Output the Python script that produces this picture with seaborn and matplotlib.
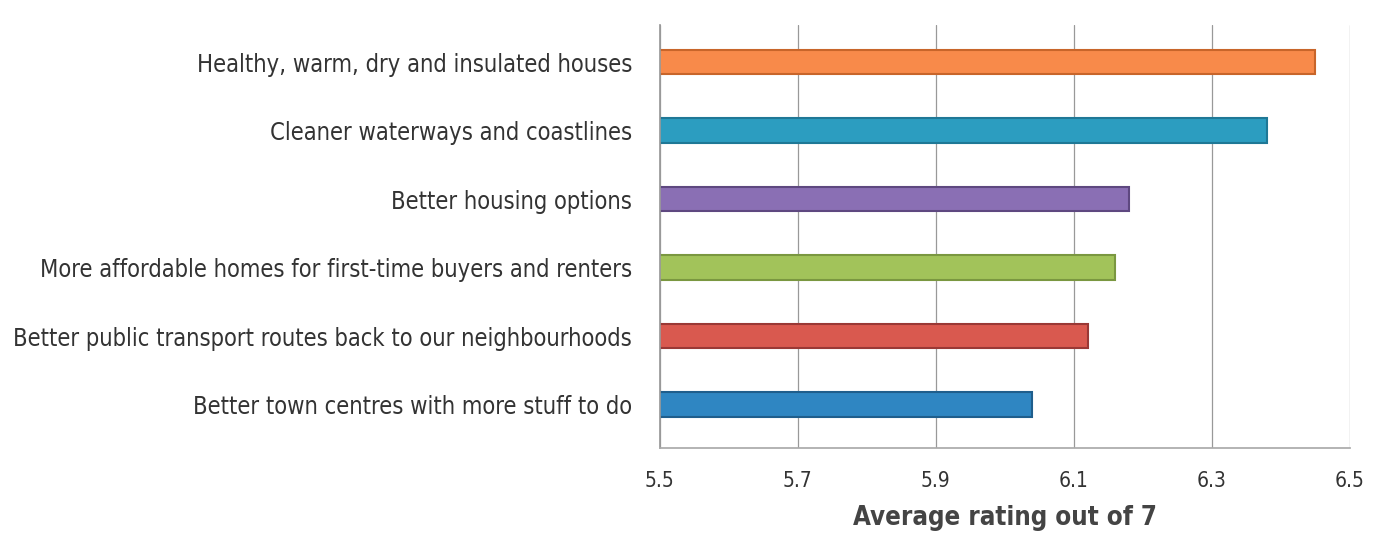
import matplotlib
matplotlib.use("Agg")
import matplotlib.pyplot as plt
import seaborn as sns
import pandas as pd

categories = [
    "Healthy, warm, dry and insulated houses",
    "Cleaner waterways and coastlines",
    "Better housing options",
    "More affordable homes for first-time buyers and renters",
    "Better public transport routes back to our neighbourhoods",
    "Better town centres with more stuff to do",
]
ratings = [6.45, 6.38, 6.18, 6.16, 6.12, 6.04]
bar_colors = ["#F88A4A", "#2C9DC0", "#8A6FB4", "#A2C35A", "#D9594F", "#2F86C2"]
edge_colors = ["#C8652A", "#1F7896", "#5E4880", "#7A9740", "#9A3835", "#1F5E8C"]
xticks = [5.5, 5.7, 5.9, 6.1, 6.3, 6.5]

df = pd.DataFrame({"category": categories, "rating": ratings})

sns.set_theme(style="white")
plt.rcParams["font.family"] = ["DejaVu Sans"]

fig = plt.figure(figsize=(13.83, 5.35), dpi=100)
ax = fig.add_axes([0.477, 0.163, 0.499, 0.79])

sns.barplot(data=df, y="category", x="rating", hue="category",
            palette=bar_colors, orient="h", width=0.36, saturation=1,
            legend=False, ax=ax)

for patch, ec in zip(ax.patches, edge_colors):
    patch.set_edgecolor(ec)
    patch.set_linewidth(1.5)

ax.set_xlim(5.5, 6.5)
ax.set_ylim(5.63, -0.54)
ax.set_xticks(xticks)
ax.set_xticklabels([f"{t:.1f}" for t in xticks], fontsize=15, color="#333333",
                   fontstretch="condensed")
ax.set_yticks(range(len(categories)))
ax.set_yticklabels(categories, fontsize=17, color="#333333", fontstretch="condensed")
ax.tick_params(axis="y", length=0, pad=20)
ax.tick_params(axis="x", length=0, pad=17)
ax.set_ylabel("")
ax.set_xlabel("Average rating out of 7", fontsize=18.5, fontweight="bold",
              color="#444444", labelpad=10, fontstretch="condensed")
ax.xaxis.grid(True, color="#999999", linewidth=0.9)
ax.set_axisbelow(True)
for side in ["top", "right"]:
    ax.spines[side].set_visible(False)
ax.spines["left"].set_color("#999999")
ax.spines["bottom"].set_color("#aaaaaa")
ax.spines["bottom"].set_linestyle((0, (3, 1)))

fig.savefig("out.png", dpi=100)
